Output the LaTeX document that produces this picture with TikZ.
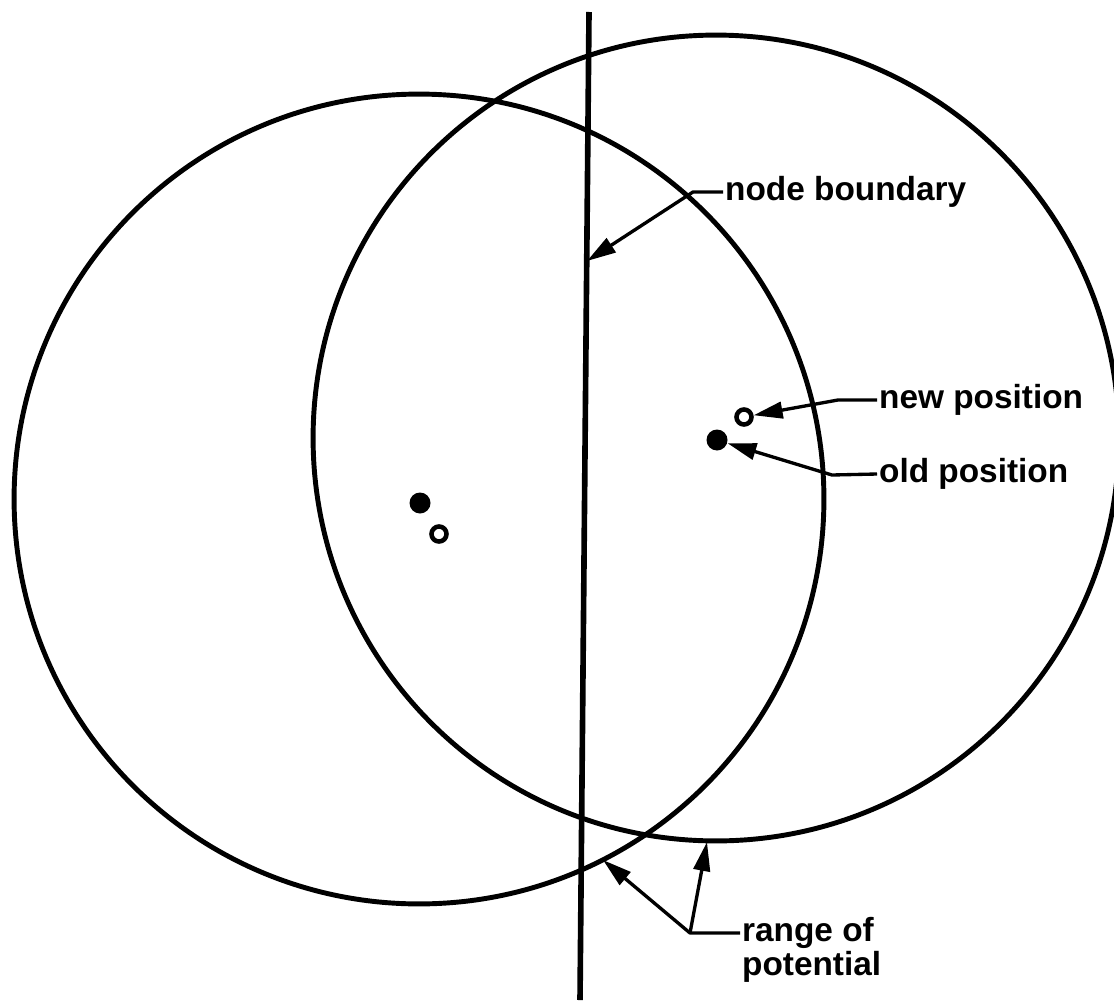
\documentclass[tikz,border=0pt]{standalone}
\usepackage{fontspec}
\newfontfamily\lblfont{Liberation Sans}
\usetikzlibrary{arrows.meta,calc}

\begin{document}
\begin{tikzpicture}[
  x=0.02cm, y=-0.02cm,
  ring/.style={draw, line width=2.8pt},
  lbl/.style={font=\lblfont\bfseries\fontsize{19}{19.4}\selectfont, inner sep=1pt, align=left},
  lead/.style={line width=1.9pt, line join=round},
  arrow/.style={lead, -{Triangle[length=5.8mm,width=3.3mm]}},
  olddot/.style={circle, fill, inner sep=0pt, minimum size=0.42cm},
  newdot/.style={circle, draw, line width=2.6pt, fill=white, inner sep=0pt, minimum size=0.3cm},
]
  \useasboundingbox (0,0) rectangle (1114,1000);

  % ranges of potential and the node boundary
  \draw[ring] (419,499) circle [radius=8.1cm];
  \draw[ring] (716,438) circle [radius=8.06cm];
  \draw[line width=3.2pt] (589,12) -- (580,1000);

  \node[olddot] (oldA) at (420,503) {};
  \node[newdot] (newA) at (439,534) {};
  \node[olddot] (oldB) at (717,440) {};
  \node[newdot] (newB) at (744,417) {};

  \node[lbl, anchor=west] (nb) at (723,192) {node boundary};
  \node[lbl, anchor=west] (np) at (877,400) {new position};
  \node[lbl, anchor=west] (op) at (877,474) {old position};
  \node[lbl, anchor=north west] (rp) at (740,915) {range of\\potential};

  \coordinate (nbknee) at (693,192);
  \coordinate (nbtip) at (587,261);
  \coordinate (npknee) at (838,400);
  \coordinate (opknee) at (832,475);
  \coordinate (rpknee) at (690,933);
  \coordinate (rptipA) at (603,860);
  \coordinate (rptipB) at (707,842);

  \draw[arrow] (nb.west) -- (nbknee) -- (nbtip);
  \draw[arrow] (np.west) -- (npknee) -- (newB);
  \draw[arrow] (op.west) -- (opknee) -- (oldB);
  \draw[arrow] (rp.west |- rpknee) -- (rpknee) -- (rptipA);
  \draw[arrow] (rpknee) -- (rptipB);
\end{tikzpicture}
\end{document}
